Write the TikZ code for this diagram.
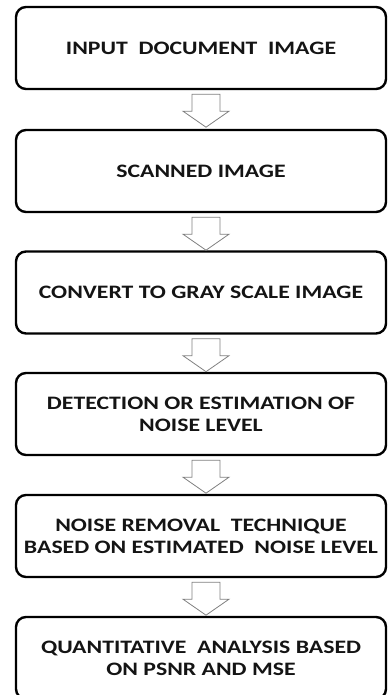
\documentclass[tikz,border=0pt]{standalone}
\usepackage{fontspec}
\setmainfont{Carlito}[FakeStretch=1.25]
\usetikzlibrary{calc}

\tikzset{
  stepbox/.style={draw=black, line width=2.4pt, rounded corners=10pt,
    minimum width=370pt, minimum height=82pt, align=center,
    font=\bfseries\fontsize{19}{22}\selectfont, text=black!92},
  hollowarrow/.style={draw=black!50, fill=white, line width=0.8pt, line join=miter}
}

% hollow block arrow hanging below a box
\newcommand{\flowarrow}[2]{%
  \coordinate (#2) at ($(#1.south)+(5,-4)$);
  \draw[hollowarrow] (#2) ++(-14,0) -- ++(28,0) -- ++(0,-17) -- ++(9,0)
    -- ++(-23,-16) -- ++(-23,16) -- ++(9,0) -- cycle;
}

\begin{document}
\begin{tikzpicture}[x=1pt,y=1pt]
  \useasboundingbox (0,0) rectangle (388,695);
  \clip (0,0) rectangle (388,695);

  \node[stepbox] (b1) at (201,647) {INPUT~ DOCUMENT~ IMAGE};
  \node[stepbox] (b2) at (201,524) {SCANNED IMAGE};
  \node[stepbox] (b3) at (201,402.5) {CONVERT TO GRAY SCALE IMAGE};
  \node[stepbox] (b4) at (201,281) {DETECTION OR ESTIMATION OF\\NOISE LEVEL};
  \node[stepbox] (b5) at (201,159) {NOISE REMOVAL~ TECHNIQUE\\BASED ON ESTIMATED~ NOISE LEVEL};
  \node[stepbox] (b6) at (201,37) {QUANTITATIVE~ ANALYSIS BASED\\ON PSNR AND MSE};

  \flowarrow{b1}{a1}
  \flowarrow{b2}{a2}
  \flowarrow{b3}{a3}
  \flowarrow{b4}{a4}
  \flowarrow{b5}{a5}
\end{tikzpicture}
\end{document}
